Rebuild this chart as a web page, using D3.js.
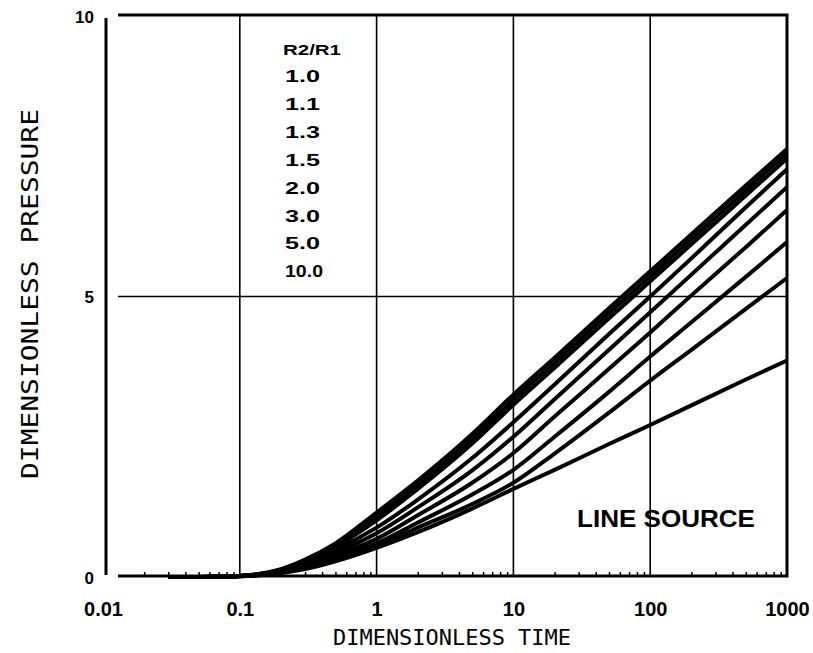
<!DOCTYPE html>
<html>
<head>
<meta charset="utf-8">
<script src="https://cdn.jsdelivr.net/npm/d3@7"></script>
<style>
  html, body { margin: 0; padding: 0; background: #fff; }
  svg { display: block; }
</style>
</head>
<body>
<svg id="chart" width="813" height="653"></svg>
<script>
// ---- data ----
const times = [0.03, 0.05, 0.1, 0.2, 0.3, 0.5, 1, 2, 5, 10, 20, 50, 100, 200, 500, 1000];
const curveR10  = [0, 0.002, 0.02, 0.14, 0.31, 0.60, 1.15, 1.72, 2.55, 3.25, 3.91, 4.79, 5.45, 6.11, 6.98, 7.63];
const curveR11  = [0, 0.002, 0.02, 0.13, 0.30, 0.57, 1.08, 1.64, 2.46, 3.16, 3.82, 4.70, 5.36, 6.02, 6.89, 7.55];
const curveR13  = [0, 0.002, 0.02, 0.13, 0.29, 0.54, 1.01, 1.57, 2.38, 3.07, 3.73, 4.61, 5.27, 5.93, 6.80, 7.46];
const curveR15  = [0, 0.002, 0.02, 0.12, 0.27, 0.49, 0.88, 1.38, 2.12, 2.76, 3.43, 4.33, 5.00, 5.68, 6.59, 7.27];
const curveR20  = [0, 0.002, 0.018, 0.11, 0.25, 0.44, 0.78, 1.24, 1.90, 2.50, 3.17, 4.05, 4.72, 5.39, 6.28, 6.95];
const curveR30  = [0, 0.002, 0.016, 0.10, 0.22, 0.39, 0.68, 1.10, 1.68, 2.21, 2.86, 3.71, 4.36, 5.02, 5.88, 6.54];
const curveR50  = [0, 0.002, 0.015, 0.09, 0.19, 0.35, 0.60, 0.97, 1.47, 1.91, 2.50, 3.30, 3.93, 4.54, 5.35, 5.97];
const curveR100 = [0, 0.002, 0.014, 0.08, 0.17, 0.31, 0.55, 0.88, 1.30, 1.68, 2.20, 2.93, 3.50, 4.05, 4.78, 5.33];
const lineSource = [0, 0.001, 0.012, 0.07, 0.14, 0.28, 0.52, 0.80, 1.22, 1.57, 1.91, 2.37, 2.71, 3.06, 3.52, 3.86];
const seriesList = [curveR10, curveR11, curveR13, curveR15, curveR20, curveR30, curveR50, curveR100, lineSource];

const legendTitle = "R2/R1";
const legendLabels = ["1.0", "1.1", "1.3", "1.5", "2.0", "3.0", "5.0", "10.0"];
const xTickValues = [0.01, 0.1, 1, 10, 100, 1000];
const xTickLabels = ["0.01", "0.1", "1", "10", "100", "1000"];
const xGridValues = [0.1, 1, 10, 100];
const yTickValues = [0, 5, 10];
const yTickLabels = ["0", "5", "10"];
const yGridValues = [5];
const xTitle = "DIMENSIONLESS TIME";
const yTitle = "DIMENSIONLESS PRESSURE";
const noteText = "LINE SOURCE";

// ---- layout ----
const svg = d3.select("#chart");
svg.append("rect").attr("width", 813).attr("height", 653).attr("fill", "#fff");

const x = d3.scaleLog().domain([0.01, 1000]).range([103, 787]);
const y = d3.scaleLinear().domain([0, 10]).range([577, 16]);
const boxLeft = 118, boxTop = 15, boxRight = 787, boxBottom = 576;

// grid lines
svg.append("g").selectAll("line").data(xGridValues).join("line")
  .attr("x1", d => x(d)).attr("x2", d => x(d))
  .attr("y1", boxTop).attr("y2", boxBottom)
  .attr("stroke", "#000").attr("stroke-width", 1.6);
svg.append("g").selectAll("line").data(yGridValues).join("line")
  .attr("x1", boxLeft).attr("x2", boxRight)
  .attr("y1", d => y(d)).attr("y2", d => y(d))
  .attr("stroke", "#000").attr("stroke-width", 1.6);

// minor ticks on bottom axis
const minor = [];
for (let e = -2; e < 3; e++) for (let k = 2; k <= 9; k++) minor.push(k * Math.pow(10, e));
const minorAxis = d3.axisBottom(x).tickValues(minor.filter(v => x(v) > boxLeft)).tickSize(-4).tickFormat("");
const gm = svg.append("g").attr("transform", `translate(0,${boxBottom})`).call(minorAxis);
gm.select(".domain").remove();
gm.selectAll(".tick line").attr("stroke", "#000").attr("stroke-width", 1.5);

// frame: top, right, bottom
svg.append("path")
  .attr("d", `M${boxLeft},${boxTop}H${boxRight}V${boxBottom}H${boxLeft}`)
  .attr("fill", "none").attr("stroke", "#000").attr("stroke-width", 3);
// separate left axis line
svg.append("line").attr("x1", 106).attr("x2", 106).attr("y1", 18).attr("y2", 575)
  .attr("stroke", "#000").attr("stroke-width", 3);

// x tick labels
const xAxis = d3.axisBottom(x).tickValues(xTickValues).tickSize(0)
  .tickFormat((d, i) => xTickLabels[i]);
const gx = svg.append("g").attr("transform", `translate(0,${boxBottom})`).call(xAxis);
gx.select(".domain").remove();
gx.selectAll(".tick text")
  .attr("y", 40).attr("dy", null)
  .attr("font-family", "Liberation Sans, Arial, sans-serif")
  .attr("font-weight", "bold").attr("font-size", 20).attr("fill", "#000");

// y tick labels
const yAxis = d3.axisLeft(y).tickValues(yTickValues).tickSize(0)
  .tickFormat((d, i) => yTickLabels[i]);
const gy = svg.append("g").attr("transform", `translate(94,0)`).call(yAxis);
gy.select(".domain").remove();
gy.selectAll(".tick text")
  .attr("x", 0).attr("dy", "0.36em")
  .attr("font-family", "Liberation Sans, Arial, sans-serif")
  .attr("font-weight", "bold").attr("font-size", 17).attr("fill", "#000");

// curves
const line = d3.line().x(d => x(d[0])).y(d => y(d[1])).curve(d3.curveMonotoneX);
svg.append("g").selectAll("path").data(seriesList).join("path")
  .attr("d", s => line(times.map((t, i) => [t, s[i]])))
  .attr("fill", "none").attr("stroke", "#000").attr("stroke-width", 4)
  .attr("stroke-linejoin", "round");

// legend
const lg = svg.append("g").attr("font-family", "Liberation Sans, Arial, sans-serif")
  .attr("font-weight", "bold").attr("fill", "#000");
lg.append("text").attr("x", 283).attr("y", 55).attr("font-size", 15)
  .attr("textLength", 58).attr("lengthAdjust", "spacingAndGlyphs").text(legendTitle);
lg.selectAll("text.item").data(legendLabels).join("text").attr("class", "item")
  .attr("x", 285).attr("y", (d, i) => 82 + i * 27.9).attr("font-size", 17)
  .attr("textLength", d => d.length > 3 ? 38 : 35).attr("lengthAdjust", "spacingAndGlyphs")
  .text(d => d);

// note
svg.append("text").attr("x", 577).attr("y", 527)
  .attr("font-family", "Liberation Sans, Arial, sans-serif")
  .attr("font-weight", "bold").attr("font-size", 23)
  .attr("textLength", 178).attr("lengthAdjust", "spacingAndGlyphs")
  .text(noteText);

// axis titles
svg.append("text").attr("x", 452).attr("y", 645).attr("text-anchor", "middle")
  .attr("font-family", "DejaVu Sans Mono, monospace").attr("font-size", 22)
  .attr("textLength", 238).attr("lengthAdjust", "spacingAndGlyphs")
  .text(xTitle);
svg.append("text").attr("transform", "translate(38,294) rotate(-90)")
  .attr("text-anchor", "middle")
  .attr("font-family", "DejaVu Sans Mono, monospace").attr("font-size", 23)
  .attr("textLength", 370).attr("lengthAdjust", "spacingAndGlyphs")
  .text(yTitle);
</script>
</body>
</html>
